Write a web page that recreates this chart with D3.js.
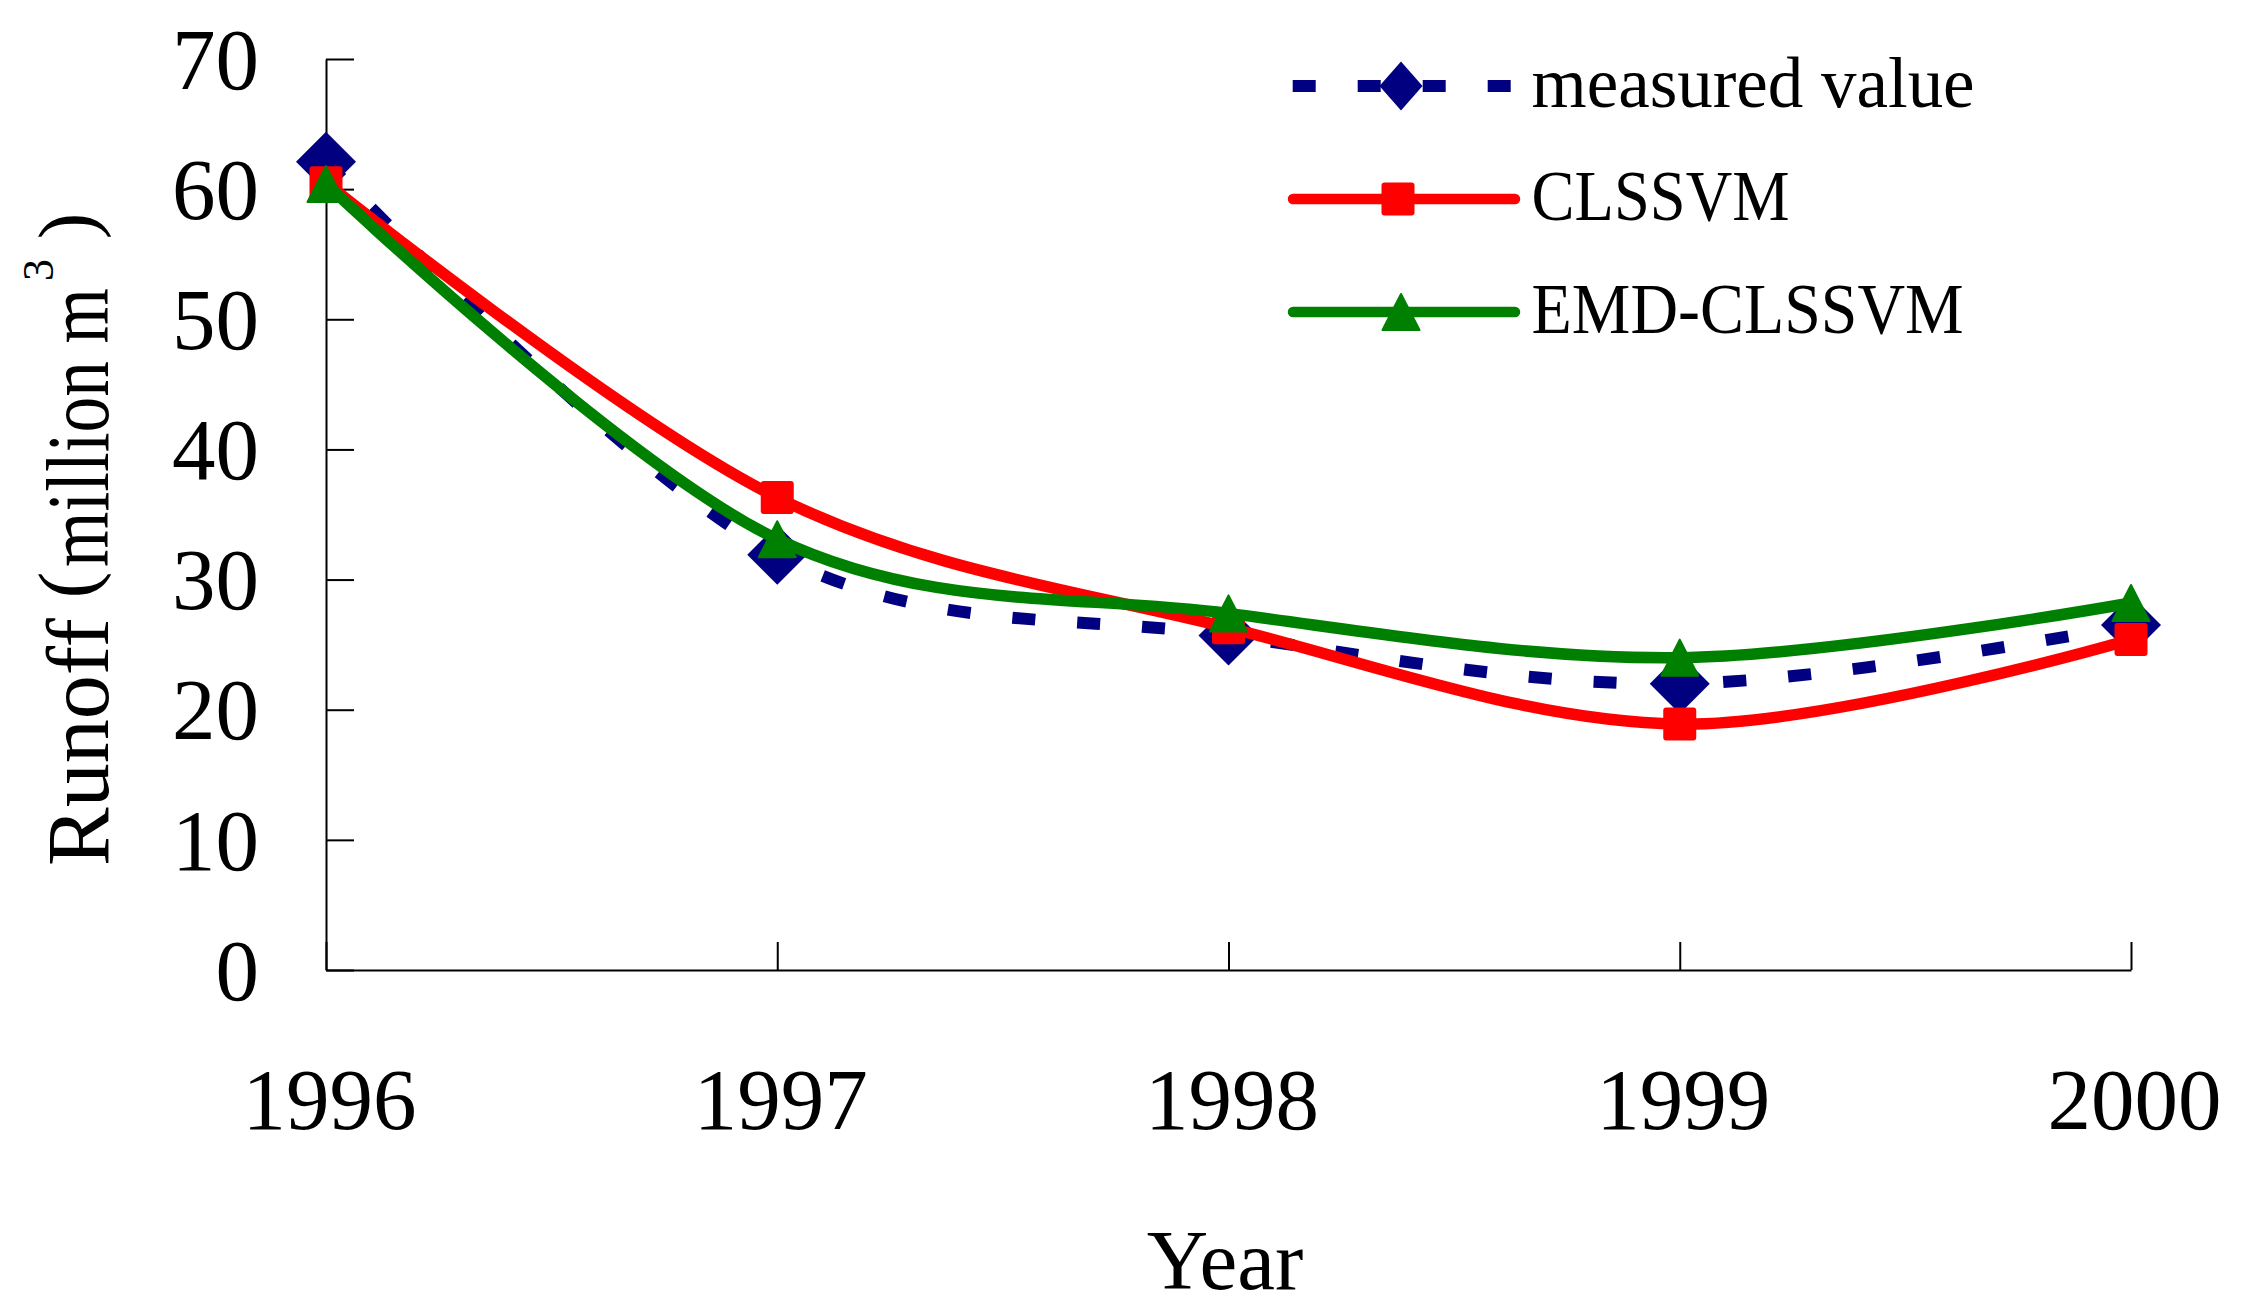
<!DOCTYPE html>
<html>
<head>
<meta charset="utf-8">
<script src="https://cdn.jsdelivr.net/npm/d3@7/dist/d3.min.js"></script>
<style>
  html, body { margin: 0; padding: 0; background: #fff; }
  svg { display: block; }
  text { font-family: "Liberation Serif", "Times New Roman", serif; fill: #000; }
</style>
</head>
<body>
<svg id="chart" width="2244" height="1315"></svg>
<script>
// ---- data ----
const years = [1996, 1997, 1998, 1999, 2000];
const measured = [62.1, 31.9, 25.7, 22.0, 26.5];
const clssvm = [60.5, 36.3, 26.3, 18.9, 25.4];
const emdClssvm = [60.4, 33.1, 27.4, 24.0, 28.2];
const yTicks = [0, 10, 20, 30, 40, 50, 60, 70];
const seriesNames = ["measured value", "CLSSVM", "EMD-CLSSVM"];

// ---- layout ----
const svg = d3.select("#chart");
svg.append("rect").attr("width", 2244).attr("height", 1315).attr("fill", "#fff");

const x = d3.scalePoint().domain(years).range([326, 2131]);
const y = d3.scaleLinear().domain([0, 70]).range([970, 59]);

// axes
const yAxis = d3.axisLeft(y).tickValues(yTicks).tickSizeInner(-28).tickSizeOuter(0).tickPadding(67);
const gy = svg.append("g").attr("transform", "translate(326,0)").call(yAxis);
gy.selectAll("path, line").attr("stroke", "#000").attr("stroke-width", 2);
gy.selectAll("text").attr("font-size", 87).attr("font-family", "Liberation Serif").attr("dy", "0.335em").attr("fill", "#000");

const xAxis = d3.axisBottom(x).tickSizeInner(-28).tickSizeOuter(0).tickFormat(d3.format("d"));
const gx = svg.append("g").attr("transform", "translate(0,970)").call(xAxis);
gx.selectAll("path, line").attr("stroke", "#000").attr("stroke-width", 2);
gx.selectAll("text").attr("font-size", 87).attr("font-family", "Liberation Serif")
  .attr("y", 159).attr("dy", 0).attr("x", 3).attr("fill", "#000");

// axis titles
svg.append("text").attr("x", 1225).attr("y", 1289).attr("text-anchor", "middle")
  .attr("font-size", 85).text("Year");

const yt = svg.append("g").attr("transform", "translate(108,0) rotate(-90)");
yt.append("text").attr("x", -866).attr("y", 0).attr("font-size", 88).text("Runoff");
yt.append("text").attr("x", -585).attr("y", -14).attr("font-size", 80).attr("text-anchor", "middle").text("(");
yt.append("text").attr("x", -567).attr("y", 0).attr("font-size", 88)
  .attr("textLength", 279).attr("lengthAdjust", "spacingAndGlyphs").text("million m");
yt.append("text").attr("x", -270).attr("y", -55).attr("font-size", 44).attr("text-anchor", "middle").text("3");
yt.append("text").attr("x", -226).attr("y", -14).attr("font-size", 80).attr("text-anchor", "middle").text(")");

// ---- series ----
const curve = d3.curveCardinal.tension(0);
const line = d3.line().x((d, i) => x(years[i])).y(d => y(d)).curve(curve);

function diamond(g, w, h, color) {
  g.append("path").attr("d", `M0,${-h/2}L${w/2},0L0,${h/2}L${-w/2},0Z`).attr("fill", color);
}
function square(g, s, color) {
  g.append("rect").attr("x", -s/2).attr("y", -s/2).attr("width", s).attr("height", s)
    .attr("rx", 3).attr("fill", color);
}
function triangle(g, w, h, color) {
  g.append("path").attr("d", `M0,${-h/2}L${w/2},${h/2}L${-w/2},${h/2}Z`)
    .attr("fill", color).attr("stroke", color).attr("stroke-width", 2).attr("stroke-linejoin", "round");
}

const series = [
  { name: seriesNames[0], values: measured, color: "#000080", dash: "23 42", width: 12, cap: "butt",
    marker: (g, leg) => leg ? diamond(g, 43, 49, "#000080") : diamond(g, 60, 60, "#000080") },
  { name: seriesNames[1], values: clssvm, color: "#FF0000", dash: null, width: 11.5, cap: "round",
    marker: (g) => square(g, 33, "#FF0000") },
  { name: seriesNames[2], values: emdClssvm, color: "#008000", dash: null, width: 11.5, cap: "round",
    marker: (g) => triangle(g, 37, 36, "#008000") }
];

series.forEach(s => {
  const p = svg.append("path").datum(s.values).attr("d", line)
    .attr("fill", "none").attr("stroke", s.color).attr("stroke-width", s.width)
    .attr("stroke-linejoin", "round").attr("stroke-linecap", s.cap);
  if (s.dash) p.attr("stroke-dasharray", s.dash);
  s.values.forEach((v, i) => {
    const g = svg.append("g").attr("transform", `translate(${x(years[i])},${y(v)})`);
    s.marker(g, false);
  });
});

// ---- legend ----
const legendRows = [
  { cy: 86, base: 106.7, len: 443 },
  { cy: 199, base: 220, len: 258 },
  { cy: 312, base: 332.7, len: 432 }
];
series.forEach((s, i) => {
  const r = legendRows[i];
  const l = svg.append("line").attr("x1", s.dash ? 1292.7 : 1293).attr("x2", s.dash ? 1511 : 1515)
    .attr("y1", r.cy).attr("y2", r.cy).attr("stroke", s.color)
    .attr("stroke-width", s.dash ? 12 : 10.5).attr("stroke-linecap", s.cap);
  if (s.dash) l.attr("stroke-dasharray", s.dash);
  const g = svg.append("g").attr("transform", `translate(${i === 1 ? 1398 : 1401},${r.cy})`);
  s.marker(g, true);
  svg.append("text").attr("x", 1531.6).attr("y", r.base).attr("font-size", 72)
    .attr("textLength", r.len).attr("lengthAdjust", "spacingAndGlyphs").text(s.name);
});
</script>
</body>
</html>
